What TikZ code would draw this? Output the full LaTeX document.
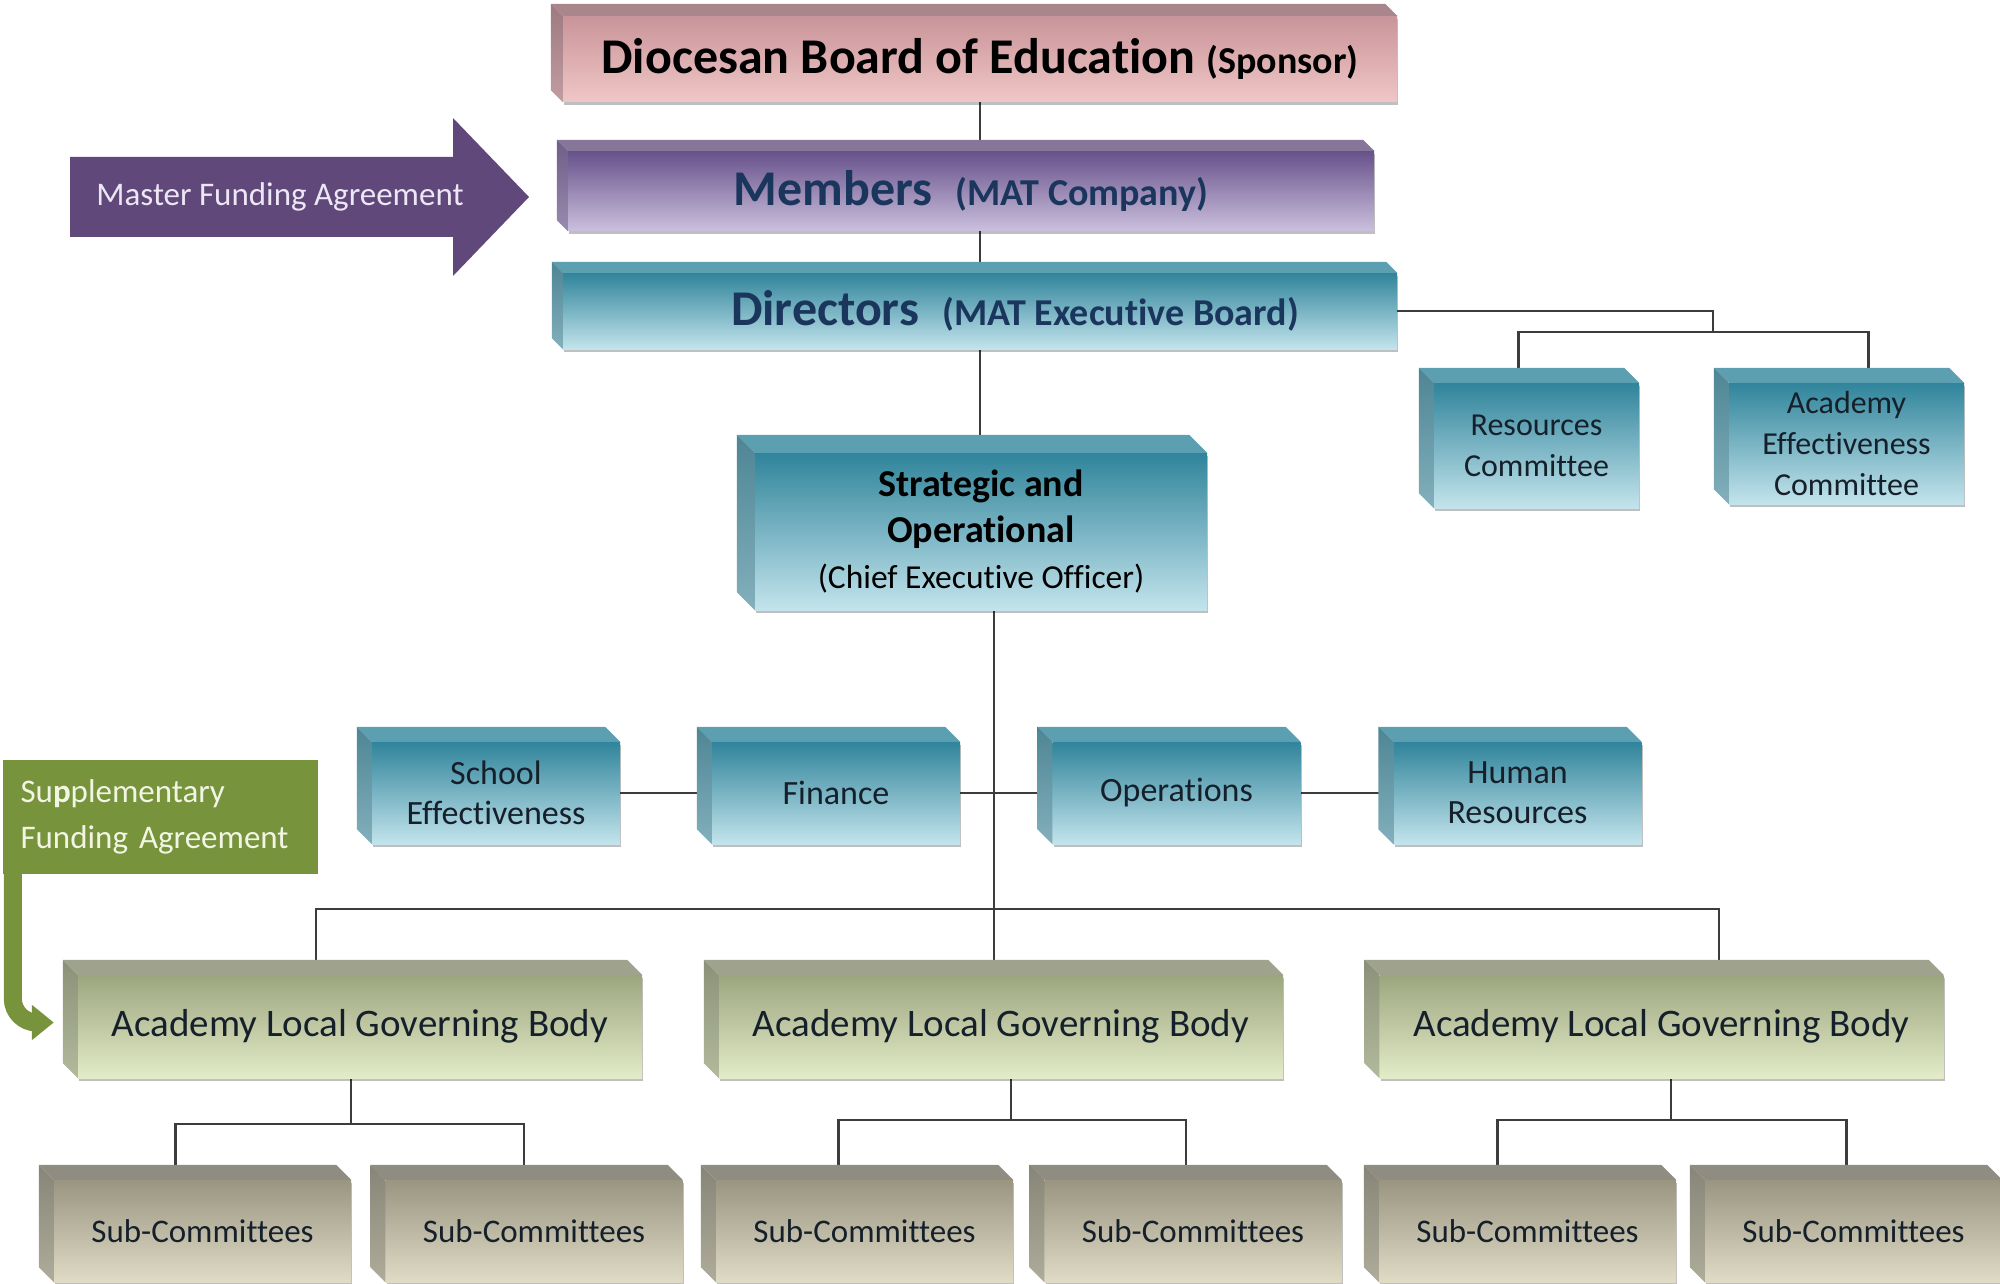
\documentclass[tikz,border=0pt]{standalone}
\usepackage{fontspec}
\setmainfont{Carlito}[Ligatures=NoCommon]
\usetikzlibrary{positioning,arrows.meta,calc,shadows,backgrounds}

\definecolor{pinkT}{HTML}{C99499}
\definecolor{pinkB}{HTML}{F0C6C6}
\definecolor{pinkU}{HTML}{A8868B}
\definecolor{pinkS}{HTML}{9C7A80}
\definecolor{purpT}{HTML}{67518A}
\definecolor{purpB}{HTML}{CBC0DD}
\definecolor{purpU}{HTML}{877699}
\definecolor{purpS}{HTML}{6F5E88}
\definecolor{tealT}{HTML}{30849B}
\definecolor{tealB}{HTML}{C3E4EC}
\definecolor{tealU}{HTML}{5C9FB0}
\definecolor{tealS}{HTML}{4E8594}
\definecolor{oliveT}{HTML}{9CA67E}
\definecolor{oliveB}{HTML}{E3EBC8}
\definecolor{oliveU}{HTML}{9FA38E}
\definecolor{oliveS}{HTML}{8A9178}
\definecolor{khakiT}{HTML}{9A9581}
\definecolor{khakiB}{HTML}{DFDBC5}
\definecolor{khakiU}{HTML}{8F8D82}
\definecolor{khakiS}{HTML}{878577}
\definecolor{mfacol}{HTML}{60497A}
\definecolor{mfatxt}{HTML}{EDE6F4}
\definecolor{sfacol}{HTML}{77933C}
\definecolor{sfatxt}{HTML}{F2F5E4}
\definecolor{navy}{HTML}{1B365D}
\definecolor{inkc}{HTML}{15202B}
\definecolor{linec}{HTML}{3C3C3C}

% top and left faces of a box: node, colour family, depth
\newcommand{\cubeside}[3]{%
  \fill[#2U] (#1.north west) -- ++(-#3,-#3) -- ($(#1.north east)+(-#3,-#3)$) -- (#1.north east) -- cycle;
  \shade[top color=#2S, bottom color=#2S!55!#2B] (#1.north west) -- ++(-#3,-#3) -- ($(#1.south west)+(-#3,-#3)$) -- (#1.south west) -- cycle;
}

\begin{document}
\begin{tikzpicture}[x=1pt, y=-1pt,
    box/.style={rectangle, inner sep=0pt, align=center, text=inkc,
                drop shadow={shadow xshift=1pt, shadow yshift=-3pt, opacity=.25, fill=black}},
    pinkbox/.style={box, top color=pinkT, bottom color=pinkB},
    purpbox/.style={box, top color=purpT, bottom color=purpB},
    tealbox/.style={box, top color=tealT, bottom color=tealB},
    olivebox/.style={box, top color=oliveT, bottom color=oliveB},
    khakibox/.style={box, top color=khakiT, bottom color=khakiB},
    rowbox/.style={tealbox, minimum width=248pt, minimum height=102pt, font=\fontsize{34}{40}\selectfont},
    algbox/.style={olivebox, minimum width=564pt, minimum height=103pt, font=\fontsize{39}{46}\selectfont},
    subbox/.style={khakibox, minimum width=297pt, minimum height=102pt, font=\fontsize{33}{40}\selectfont},
    conn/.style={draw=linec, line width=2.5pt}]
  \useasboundingbox (0,0) rectangle (2000,1284);

  % Sponsor, members and directors
  \node[pinkbox, minimum width=834pt, minimum height=86pt, text=black] (dbe) at (980,59)
    {\raisebox{3pt}{\bfseries\fontsize{50}{60}\selectfont Diocesan Board of Education \fontsize{38}{46}\selectfont(Sponsor)}};
  \node[purpbox, minimum width=806pt, minimum height=80pt, text=navy] (mem) at (971,191)
    {\bfseries\fontsize{50}{60}\selectfont Members\hspace{12pt} \fontsize{38}{46}\selectfont(MAT Company)};
  \node[tealbox, minimum width=834pt, minimum height=76pt, text=navy] (dir) at (980,311)
    {\bfseries\fontsize{50}{60}\selectfont\hspace*{70pt}Directors\hspace{12pt} \fontsize{38}{46}\selectfont(MAT Executive Board)};

  % Board committees
  \node[tealbox, minimum width=205pt, minimum height=125pt, font=\fontsize{32}{41}\selectfont] (res) at (1536.5,445.5) {Resources\\Committee};
  \node[tealbox, minimum width=235pt, minimum height=121pt, font=\fontsize{32}{41}\selectfont] (aec) at (1846.5,443.5) {Academy\\Effectiveness\\Committee};

  % Executive
  \node[tealbox, minimum width=452pt, minimum height=157pt, text=black, font=\fontsize{33.5}{46}\selectfont] (sto) at (981,531.5)
    {\textbf{\fontsize{38}{48}\selectfont Strategic and}\\\textbf{\fontsize{38}{48}\selectfont Operational}\\(Chief Executive Officer)};
  \node[rowbox] (se) at (496,793) {School\\Effectiveness};
  \node[rowbox] (fin) at (836,793) {Finance};
  \node[rowbox] (ops) at (1176.5,793) {Operations};
  \node[rowbox] (hr) at (1517.5,793) {Human\\Resources};

  % Academies
  \node[algbox] (alg1) at (360,1026.5) {Academy Local Governing Body};
  \node[algbox] (alg2) at (1001,1026.5) {Academy Local Governing Body};
  \node[algbox] (alg3) at (1661.5,1026.5) {\raisebox{5pt}{Academy Local Governing Body}};
  \node[subbox] (sub1) at (202.5,1231) {Sub-Committees};
  \node[subbox] (sub2) at (534,1231) {Sub-Committees};
  \node[subbox] (sub3) at (864.5,1231) {Sub-Committees};
  \node[subbox] (sub4) at (1193,1231) {Sub-Committees};
  \node[subbox] (sub5) at (1527.5,1231) {Sub-Committees};
  \node[subbox] (sub6) at (1853.5,1231) {Sub-Committees};

  % Funding agreements
  \fill[mfacol] (70,157) -- (453,157) -- (453,118) -- (529,197) -- (453,276) -- (453,237) -- (70,237) -- cycle;
  \node[text=mfatxt, font=\fontsize{33}{40}\selectfont] (mfa) at (280,197) {Master Funding Agreement};
  \node[fill=sfacol, minimum width=315pt, minimum height=114pt, text width=280pt, inner sep=0pt, align=left,
        text=sfatxt, font=\fontsize{33}{46}\selectfont] (sfa) at (160.5,817) {Su\textbf{p}plementary\\Funding Agreement};
  \draw[sfacol, line width=18pt, rounded corners=24pt, -{Triangle[length=22pt, width=34pt]}]
    ([xshift=10pt]sfa.south west) |- ([xshift=-24pt, yshift=4pt]alg1.west);

  % 3D faces
  \cubeside{dbe}{pink}{12}
  \cubeside{mem}{purp}{11}
  \cubeside{dir}{teal}{11}
  \cubeside{res}{teal}{15}
  \cubeside{aec}{teal}{15}
  \cubeside{sto}{teal}{18}
  \cubeside{se}{teal}{15}
  \cubeside{fin}{teal}{15}
  \cubeside{ops}{teal}{15}
  \cubeside{hr}{teal}{15}
  \cubeside{alg1}{olive}{15}
  \cubeside{alg2}{olive}{15}
  \cubeside{alg3}{olive}{15}
  \cubeside{sub1}{khaki}{15}
  \cubeside{sub2}{khaki}{15}
  \cubeside{sub3}{khaki}{15}
  \cubeside{sub4}{khaki}{15}
  \cubeside{sub5}{khaki}{15}
  \cubeside{sub6}{khaki}{15}

  % Connectors
  \begin{scope}[on background layer]
    \draw[conn] (dbe) -- (dbe |- mem);
    \draw[conn] (dbe |- mem) -- (dbe |- dir);
    \draw[conn] (dir) -- (dir |- sto);
    \draw[conn] ($(sto.south)+(13,0)$) coordinate (trunk) -- (trunk |- alg2.north);
    \draw[conn] (se) -- (fin);
    \draw[conn] (fin) -- (ops);
    \draw[conn] (ops) -- (hr);
    \coordinate (cj) at (1713,332);
    \draw[conn] (dir.east) -| (cj);
    \draw[conn] ([xshift=-18pt]res.north) |- (cj) -| ([xshift=22pt]aec.north);
    \coordinate (busL) at (316,909);
    \coordinate (busR) at (1719,909);
    \draw[conn] (busL |- alg1.north) -- (busL) -- (busR) -- (busR |- alg3.north);
    \coordinate (j1) at (351,1124);
    \coordinate (j2) at (1011,1120);
    \coordinate (j3) at (1671,1120);
    \draw[conn] (alg1.south -| j1) -- (j1);
    \draw[conn] (alg2.south -| j2) -- (j2);
    \draw[conn] (alg3.south -| j3) -- (j3);
    \draw[conn] ([xshift=-27pt]sub1.north) |- (j1) -| ([xshift=-10pt]sub2.north);
    \draw[conn] ([xshift=-26pt]sub3.north) |- (j2) -| ([xshift=-7pt]sub4.north);
    \draw[conn] ([xshift=-30pt]sub5.north) |- (j3) -| ([xshift=-7pt]sub6.north);
  \end{scope}
\end{tikzpicture}
\end{document}
